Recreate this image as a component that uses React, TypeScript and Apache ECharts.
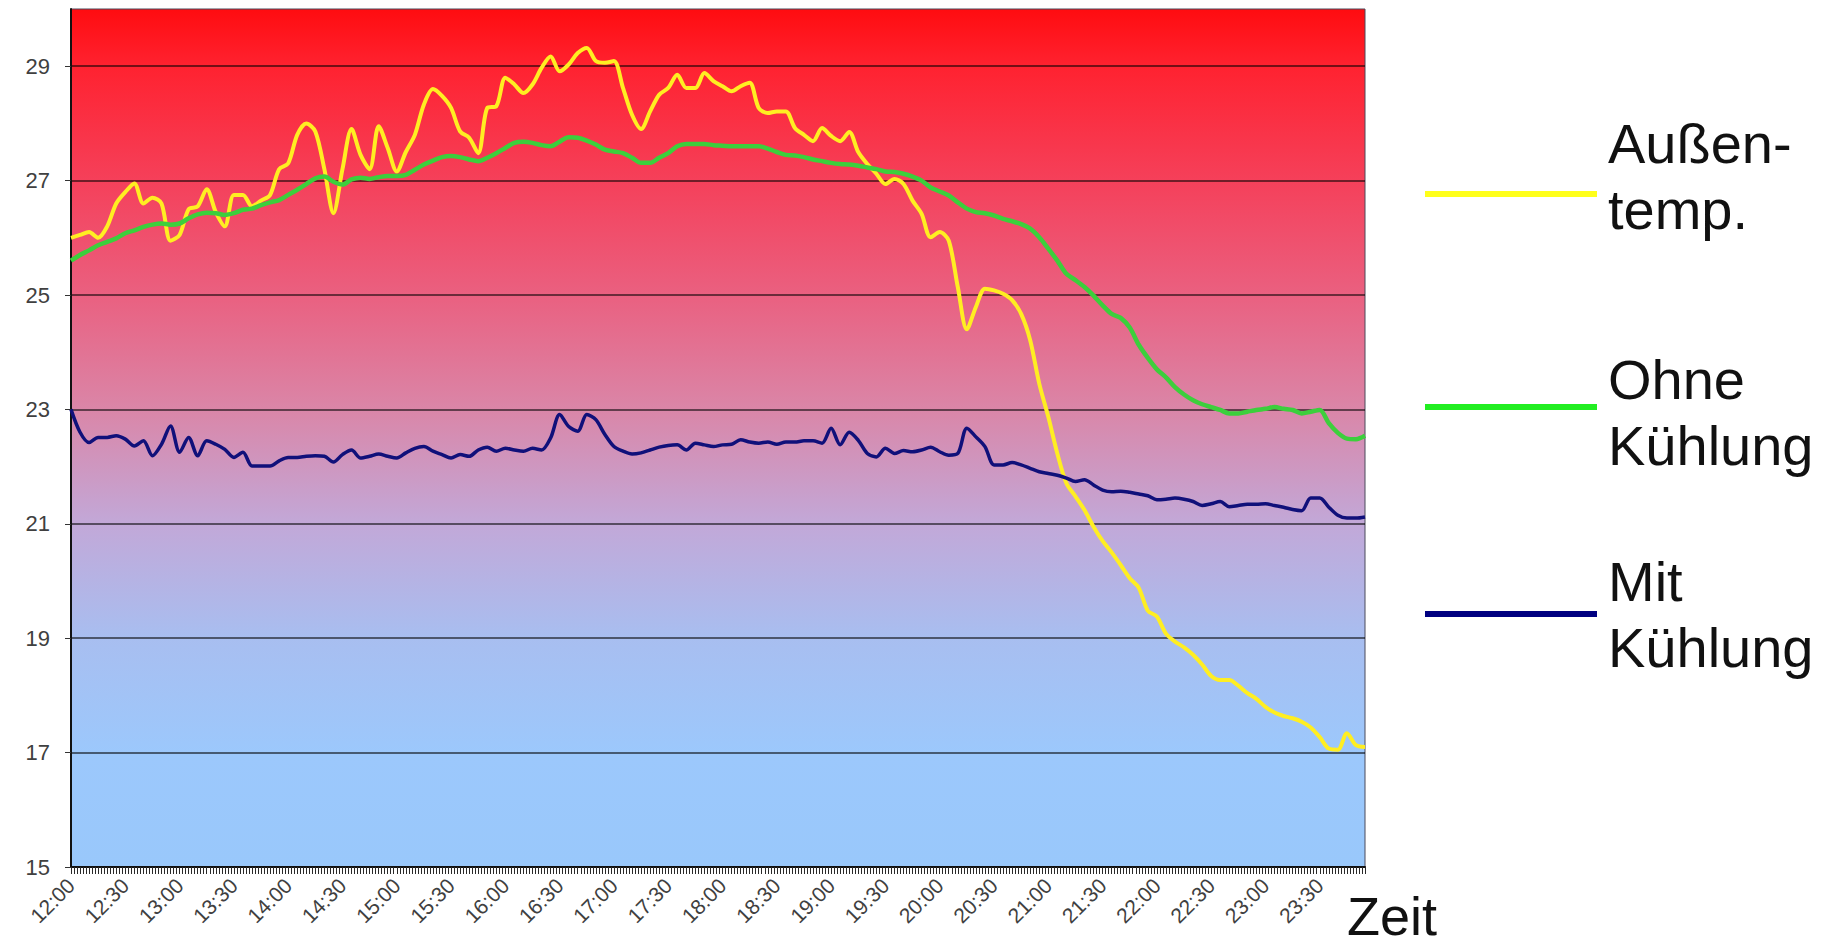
import React, { useEffect, useRef } from "react";
import * as echarts from "echarts";

// Time categories, every 5 minutes from 12:00 to 23:55
const timeLabels: string[] = [];
for (let m = 12 * 60; m <= 23 * 60 + 55; m += 5) {
  const h = Math.floor(m / 60);
  const mm = m % 60;
  timeLabels.push(`${h}:${mm < 10 ? "0" + mm : mm}`);
}
// decorative dense tick slots along the time axis
const tickSlots: string[] = Array.from({ length: 430 }, (_, i) => String(i));

const seriesNames = ["Außentemp.", "Ohne Kühlung", "Mit Kühlung"];

const outsideTemp = [
  26.0, 26.05, 26.1, 26.0, 26.2, 26.6, 26.8, 26.95, 26.6, 26.7, 26.6, 25.95,
  26.05, 26.5, 26.55, 26.85, 26.45, 26.2, 26.75, 26.75, 26.55, 26.65, 26.75, 27.2,
  27.3, 27.8, 28.0, 27.86, 27.2, 26.43, 27.2, 27.9, 27.45, 27.2, 27.95, 27.57,
  27.16, 27.5, 27.8, 28.33, 28.6, 28.48, 28.27, 27.86, 27.75, 27.48, 28.27, 28.3,
  28.8, 28.68, 28.53, 28.68, 28.97, 29.17, 28.91, 29.03, 29.23, 29.32, 29.09, 29.06,
  29.09, 28.62, 28.15, 27.9, 28.21, 28.5, 28.62, 28.85, 28.62, 28.62, 28.88, 28.74,
  28.65,
  28.56, 28.65, 28.71, 28.27, 28.18, 28.21, 28.21, 27.92, 27.8, 27.69, 27.92, 27.78,
  27.69, 27.85, 27.5, 27.29, 27.12, 26.94, 27.03, 26.94, 26.65, 26.42, 26.01, 26.1,
  25.95, 25.14, 24.4, 24.79, 25.11, 25.08, 25.02, 24.91, 24.67, 24.21, 23.45, 22.87,
  22.23, 21.71, 21.48, 21.24, 20.95, 20.7, 20.5, 20.28, 20.05, 19.88, 19.48, 19.38,
  19.08, 18.94, 18.84, 18.71, 18.54, 18.34, 18.27, 18.27, 18.17, 18.04, 17.94, 17.8,
  17.7, 17.64, 17.6, 17.54, 17.44, 17.27, 17.07, 17.05, 17.34, 17.13, 17.1,
];

const withoutCooling = [
  25.6, 25.7, 25.78, 25.87, 25.93, 25.99, 26.08, 26.13, 26.19, 26.23, 26.25, 26.23,
  26.25, 26.34, 26.41, 26.44, 26.43, 26.4, 26.43, 26.49, 26.51, 26.57, 26.62, 26.66,
  26.75, 26.84, 26.94, 27.04, 27.07, 26.98, 26.93, 27.02, 27.05, 27.03, 27.06, 27.08,
  27.08, 27.1, 27.19, 27.28, 27.35, 27.41, 27.43, 27.41, 27.37, 27.34, 27.4, 27.48,
  27.57, 27.66, 27.68, 27.66, 27.62, 27.6, 27.68, 27.76, 27.75, 27.7, 27.63, 27.54,
  27.51, 27.48, 27.4, 27.31, 27.31, 27.4, 27.48, 27.6, 27.64, 27.64, 27.64, 27.62,
  27.61,
  27.6, 27.6, 27.6, 27.6, 27.56, 27.5, 27.45, 27.44, 27.41, 27.37, 27.34, 27.31,
  27.29, 27.28, 27.26, 27.23, 27.2, 27.16, 27.15, 27.12, 27.07, 27.0, 26.88, 26.81,
  26.74, 26.62, 26.51, 26.45, 26.43, 26.39, 26.33, 26.29, 26.24, 26.16, 26.01, 25.81,
  25.6, 25.37, 25.26, 25.14, 24.99, 24.82, 24.67, 24.6, 24.43, 24.13, 23.9, 23.7,
  23.56, 23.39, 23.26, 23.16, 23.09, 23.04, 22.99, 22.93, 22.93, 22.96, 22.99, 23.01,
  23.04, 23.01, 22.99, 22.93, 22.96, 22.99, 22.76, 22.59, 22.49, 22.48, 22.54,
];

const withCooling = [
  23.0, 22.6, 22.42, 22.51, 22.51, 22.54, 22.48, 22.36, 22.45, 22.19, 22.39, 22.71,
  22.25, 22.51, 22.19, 22.45, 22.39, 22.3, 22.16, 22.25, 22.01, 22.01, 22.01, 22.1,
  22.16, 22.16, 22.18, 22.19, 22.18, 22.08, 22.21, 22.29, 22.15, 22.18, 22.22, 22.18,
  22.15, 22.24, 22.32, 22.35, 22.27, 22.21, 22.15, 22.21, 22.18, 22.29, 22.34, 22.27,
  22.32, 22.29, 22.27, 22.32, 22.29, 22.5, 22.91, 22.7, 22.62, 22.91, 22.82, 22.56,
  22.35, 22.27, 22.22, 22.24, 22.29, 22.34, 22.37, 22.38, 22.29, 22.41, 22.38, 22.35,
  22.38,
  22.39, 22.47, 22.43, 22.41, 22.43, 22.39, 22.43, 22.43, 22.45, 22.45, 22.41, 22.67,
  22.38, 22.6, 22.46, 22.23, 22.17, 22.32, 22.23, 22.28, 22.26, 22.29, 22.34, 22.26,
  22.2, 22.23, 22.67, 22.52, 22.35, 22.03, 22.03, 22.07, 22.03, 21.97, 21.91, 21.88,
  21.85, 21.8, 21.74, 21.77, 21.68, 21.59, 21.56, 21.57, 21.55, 21.52, 21.49, 21.42,
  21.43, 21.45, 21.43, 21.39, 21.32, 21.35, 21.39, 21.3, 21.32, 21.34, 21.34, 21.35,
  21.32, 21.29, 21.25, 21.23, 21.45, 21.45, 21.29, 21.15, 21.1, 21.1, 21.12,
];

const FONT = "'Liberation Sans', Arial, sans-serif";

export default function App() {
  const ref = useRef<HTMLDivElement>(null);

  useEffect(() => {
    if (!ref.current) return;
    const chart = echarts.init(ref.current, undefined, { renderer: "svg" });

    const bg = new echarts.graphic.LinearGradient(0, 0, 0, 1, [
      { offset: 0, color: "#ff0c10" },
      { offset: 0.067, color: "#ff2230" },
      { offset: 0.2, color: "#f5405a" },
      { offset: 0.333, color: "#ea6080" },
      { offset: 0.467, color: "#da86a8" },
      { offset: 0.6, color: "#c2a8d8" },
      { offset: 0.733, color: "#a8bef0" },
      { offset: 0.867, color: "#9cc8fc" },
      { offset: 1, color: "#99c8fb" },
    ]);

    const legendFont = `56px ${FONT}`;

    chart.setOption({
      animation: false,
      backgroundColor: "#ffffff",
      grid: {
        left: 71,
        right: 459,
        top: 9,
        bottom: 83,
        show: true,
        backgroundColor: bg,
        borderColor: "#4a4a5a",
        borderWidth: 1,
      },
      xAxis: [
        {
          type: "category",
          data: timeLabels,
          boundaryGap: false,
          axisLine: { show: true, lineStyle: { color: "#111", width: 2 } },
          axisTick: { show: false },
          axisLabel: {
            interval: 5,
            rotate: 45,
            fontSize: 21,
            fontFamily: FONT,
            color: "#404040",
            margin: 15,
          },
          splitLine: { show: false },
        },
        {
          type: "category",
          data: tickSlots,
          boundaryGap: false,
          position: "bottom",
          axisLine: { show: false },
          axisTick: {
            show: true,
            interval: 0,
            length: 7,
            lineStyle: { color: "#2a2a2a", width: 1 },
          },
          axisLabel: { show: false },
          splitLine: { show: false },
        },
      ],
      yAxis: {
        type: "value",
        min: 15,
        max: 30,
        interval: 2,
        axisLine: { show: true, lineStyle: { color: "#111", width: 2 } },
        axisTick: { show: true, length: 6, lineStyle: { color: "#333" } },
        axisLabel: {
          fontSize: 22,
          fontFamily: FONT,
          color: "#404040",
          margin: 21,
          showMaxLabel: false,
        },
        splitLine: {
          show: true,
          showMaxLine: false,
          lineStyle: { color: "rgba(0,0,0,0.55)", width: 2 },
        },
      },
      series: [
        {
          name: seriesNames[0],
          type: "line",
          data: outsideTemp,
          xAxisIndex: 0,
          showSymbol: false,
          smooth: 0.3,
          lineStyle: { color: "#ffee22", width: 4 },
          itemStyle: { color: "#ffee22" },
        },
        {
          name: seriesNames[1],
          type: "line",
          data: withoutCooling,
          xAxisIndex: 0,
          showSymbol: false,
          smooth: 0.3,
          lineStyle: { color: "#3ccf3c", width: 4.5 },
          itemStyle: { color: "#3ccf3c" },
        },
        {
          name: seriesNames[2],
          type: "line",
          data: withCooling,
          xAxisIndex: 0,
          showSymbol: false,
          smooth: 0.3,
          lineStyle: { color: "#10107a", width: 3.5 },
          itemStyle: { color: "#10107a" },
        },
      ],
      graphic: [
        { type: "line", shape: { x1: 1425, y1: 194, x2: 1597, y2: 194 }, style: { stroke: "#ffff1a", lineWidth: 6 } },
        { type: "text", x: 1608, y: 110, style: { text: "Außen-\ntemp.", font: legendFont, fill: "#111", lineHeight: 66, verticalAlign: "top" } },
        { type: "line", shape: { x1: 1425, y1: 407, x2: 1597, y2: 407 }, style: { stroke: "#22ee22", lineWidth: 6 } },
        { type: "text", x: 1608, y: 346, style: { text: "Ohne\nKühlung", font: legendFont, fill: "#111", lineHeight: 66, verticalAlign: "top" } },
        { type: "line", shape: { x1: 1425, y1: 614, x2: 1597, y2: 614 }, style: { stroke: "#000080", lineWidth: 6 } },
        { type: "text", x: 1608, y: 548, style: { text: "Mit\nKühlung", font: legendFont, fill: "#111", lineHeight: 66, verticalAlign: "top" } },
        { type: "text", x: 1347, y: 916, style: { text: "Zeit", font: `54px ${FONT}`, fill: "#111", verticalAlign: "middle" } },
      ],
    });

    return () => chart.dispose();
  }, []);

  return (
    <div
      ref={ref}
      style={{ position: "fixed", left: 0, top: 0, width: 1824, height: 950 }}
    />
  );
}
